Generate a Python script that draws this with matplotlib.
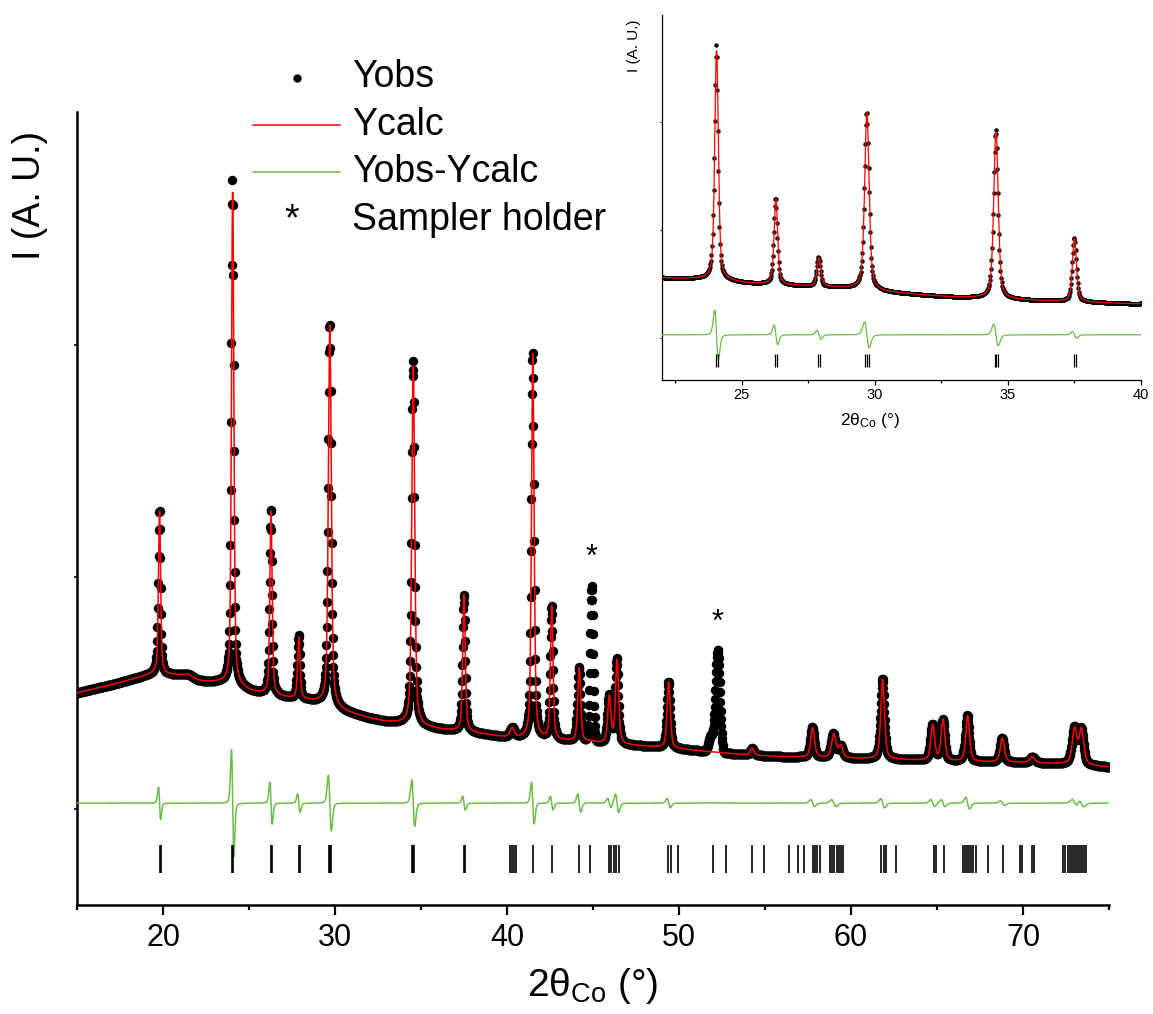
import numpy as np
import matplotlib.pyplot as plt
from matplotlib.lines import Line2D

plt.rcParams['font.family'] = ['Liberation Sans', 'DejaVu Sans']
plt.rcParams['mathtext.fontset'] = 'custom'
plt.rcParams['mathtext.rm'] = 'Liberation Sans'
plt.rcParams['mathtext.it'] = 'Liberation Sans:italic'

W, H = 1153, 1014

# background (2theta, intensity)
bg_pos = [15, 16, 17, 18, 19, 19.5, 20.2, 20.8, 21.5, 22, 22.5, 23.5, 24.5, 25.2, 26, 27.3,
          28.5, 29.3, 30.5, 32, 33, 34, 36, 38, 40, 42, 44, 46, 48, 50, 52, 54, 56, 58,
          60, 63, 66, 70, 73, 75]
bg_int = [500, 518, 535, 555, 575, 585, 580, 578, 578, 555, 548, 545, 525, 505, 495, 478,
          467, 455, 421, 390, 375, 368, 344, 328, 307, 298, 290, 280, 270, 258, 245, 232, 225, 222,
          218, 212, 205, 200, 192, 180]

# fitted phase: position, height above background, FWHM, misfit seen in Yobs-Ycalc
peak_pos = [19.80, 24.05, 26.28, 27.90, 29.70, 34.55, 37.50, 40.30, 41.50, 42.60, 44.20,
            45.95, 46.40, 49.40, 54.25, 57.77, 59.00, 59.40, 61.84, 64.75, 65.35, 66.78,
            68.80, 70.55, 73.00, 73.40]
peak_height = [700, 2150, 790, 265, 1640, 1560, 590, 40, 1660, 573, 317,
               200, 360, 285, 30, 127, 100, 50, 344, 152, 175, 196,
               104, 25, 150, 150]
peak_fwhm = [0.15, 0.16, 0.16, 0.17, 0.2, 0.2, 0.18, 0.3, 0.18, 0.18, 0.2,
             0.22, 0.22, 0.22, 0.25, 0.26, 0.3, 0.3, 0.26, 0.26, 0.26, 0.26,
             0.28, 0.35, 0.32, 0.32]
peak_misfit = [70, 230, 90, 40, 120, 100, 30, 0, 90, 30, 40,
               20, 40, 20, 0, 15, 15, 0, 20, 15, 15, 25,
               10, 0, 15, 15]

# sample holder reflections, not in the model
holder_pos = [44.92, 51.85, 52.25]
holder_height = [669, 70, 440]
holder_fwhm = [0.22, 0.3, 0.3]
holder_star = [44.92, 52.25]

# regions left out of the refinement
excluded = [(44.6, 45.3), (51.5, 53.2)]

# reflection positions of the phase
bragg_pos = [19.84, 19.88, 24.03, 24.09, 26.26, 26.32, 27.88, 27.94, 29.64, 29.70, 29.76,
             34.50, 34.56, 34.62, 37.50, 37.56, 40.16, 40.28, 40.40, 40.55, 41.50, 42.63,
             44.20, 44.82, 45.95, 46.07, 46.23, 46.35, 46.52, 49.38, 49.55, 49.92, 51.98,
             52.75, 54.25, 54.94, 56.40, 56.90, 57.29, 57.77, 57.90, 58.05, 58.20, 58.80,
             58.92, 59.04, 59.16, 59.28, 59.40, 59.56, 61.74, 61.90, 62.06, 62.60, 64.80,
             64.92, 65.38, 66.50, 66.62, 66.74, 66.86, 66.98, 67.10, 67.26, 67.94, 68.83,
             69.84, 69.96, 70.53, 70.65, 72.35, 72.47, 72.59, 72.71, 72.83, 72.95, 73.07,
             73.19, 73.31, 73.43, 73.55, 73.64]

step = 0.02
diff_offset = 25


def pv(x, x0, w, eta=0.5):
    g = np.exp(-4 * np.log(2) * ((x - x0) / w) ** 2)
    l = 1 / (1 + 4 * ((x - x0) / w) ** 2)
    return eta * l + (1 - eta) * g


tth = np.arange(15, 75 + step / 2, step)
ycalc = np.interp(tth, bg_pos, bg_int).astype(float)
misfit = np.zeros_like(tth)
for p, h, w, m in zip(peak_pos, peak_height, peak_fwhm, peak_misfit):
    ycalc += h * pv(tth, p, w)
    if m:
        d = pv(tth, p - 0.3 * w, w) - pv(tth, p + 0.3 * w, w)
        misfit += m * d / np.abs(d).max()
holder = np.zeros_like(tth)
for p, h, w in zip(holder_pos, holder_height, holder_fwhm):
    holder += h * pv(tth, p, w, eta=0.0)
yobs = ycalc + misfit + holder

keep = np.ones_like(tth, dtype=bool)
for a, b in excluded:
    keep &= ~((tth > a) & (tth < b))
diff = yobs - ycalc


def draw(ax, ms, lw, blw):
    ax.plot(tth, yobs, 'o', color='black', ms=ms, mew=0, zorder=2)
    ax.plot(tth[keep], ycalc[keep], '-', color='red', lw=lw, zorder=3)
    ax.plot(tth[keep], diff[keep] + diff_offset, '-', color='#6abd45', lw=lw, zorder=3)
    ax.vlines(bragg_pos, -155, -275, color='black', lw=blw, zorder=3)
    for s in ['top', 'right']:
        ax.spines[s].set_visible(False)


fig = plt.figure(figsize=(W / 100, H / 100), dpi=100)

ax = fig.add_axes([77 / W, 1 - 905 / H, (1109 - 77) / W, (905 - 112) / H])
draw(ax, 6.8, 1.1, 1.2)
ax.set_xlim(15, 75)
ax.set_ylim(-414, 3004)
ax.set_xticks(range(20, 71, 10))
ax.set_xticks(range(15, 76, 10), minor=True)
ax.set_yticks([0, 1000, 2000])
ax.set_yticklabels([])
ax.tick_params(axis='x', which='major', direction='out', length=7, width=1.6,
               labelsize=22, pad=6)
ax.tick_params(axis='x', which='minor', direction='out', length=3.5, width=1.6)
ax.tick_params(axis='y', direction='out', length=2, width=1.2)
for s in ['left', 'bottom']:
    ax.spines[s].set_linewidth(1.8)

for p in holder_star:
    top = np.interp(p, tth, yobs)
    ax.text(p, top + 120, '*', fontsize=22, ha='center', va='center')

fig.text(593 / W, 1 - 986 / H, r'2θ$_{\mathrm{Co}}$ (°)', fontsize=28,
         ha='center', va='center')
fig.text(30 / W, 1 - 195 / H, 'I (A. U.)', fontsize=27, rotation=90,
         ha='center', va='center')

# legend
fs = 27
fig.add_artist(Line2D([297 / W], [1 - 78 / H], marker='o', color='black', ms=6,
                      mew=0, transform=fig.transFigure))
fig.add_artist(Line2D([253 / W, 340 / W], [1 - 125 / H] * 2, color='red', lw=1.1,
                      transform=fig.transFigure))
fig.add_artist(Line2D([253 / W, 340 / W], [1 - 172 / H] * 2, color='#6abd45', lw=1.1,
                      transform=fig.transFigure))
for y, t in [(77, 'Yobs'), (125, 'Ycalc'), (172, 'Yobs-Ycalc'), (220, 'Sampler holder')]:
    fig.text(352 / W, 1 - y / H, t, fontsize=fs, ha='left', va='center')
fig.text(292 / W, 1 - 220 / H, '*', fontsize=fs, ha='center', va='center')

# zoomed inset
axi = fig.add_axes([662 / W, 1 - 380 / H, (1141 - 662) / W, (380 - 15) / H])
draw(axi, 3.2, 0.9, 0.9)
axi.set_xlim(22, 40)
axi.set_ylim(-394, 2992)
axi.set_xticks([25, 30, 35, 40])
axi.set_xticks([22.5, 27.5, 32.5, 37.5], minor=True)
axi.set_yticks([0, 1000, 2000])
axi.set_yticklabels([])
axi.tick_params(axis='x', which='major', direction='out', length=3.5, width=0.9,
                labelsize=10.5, pad=2)
axi.tick_params(axis='x', which='minor', direction='out', length=2, width=0.9)
axi.tick_params(axis='y', direction='out', length=1.5, width=0.8)
for s in ['left', 'bottom']:
    axi.spines[s].set_linewidth(0.9)
fig.text(870 / W, 1 - 420 / H, r'2θ$_{\mathrm{Co}}$ (°)', fontsize=12.5,
         ha='center', va='center')
fig.text(634 / W, 1 - 20 / H, 'I (A. U.)', fontsize=11, rotation=90,
         ha='center', va='top')

fig.savefig('out.png', dpi=100)
